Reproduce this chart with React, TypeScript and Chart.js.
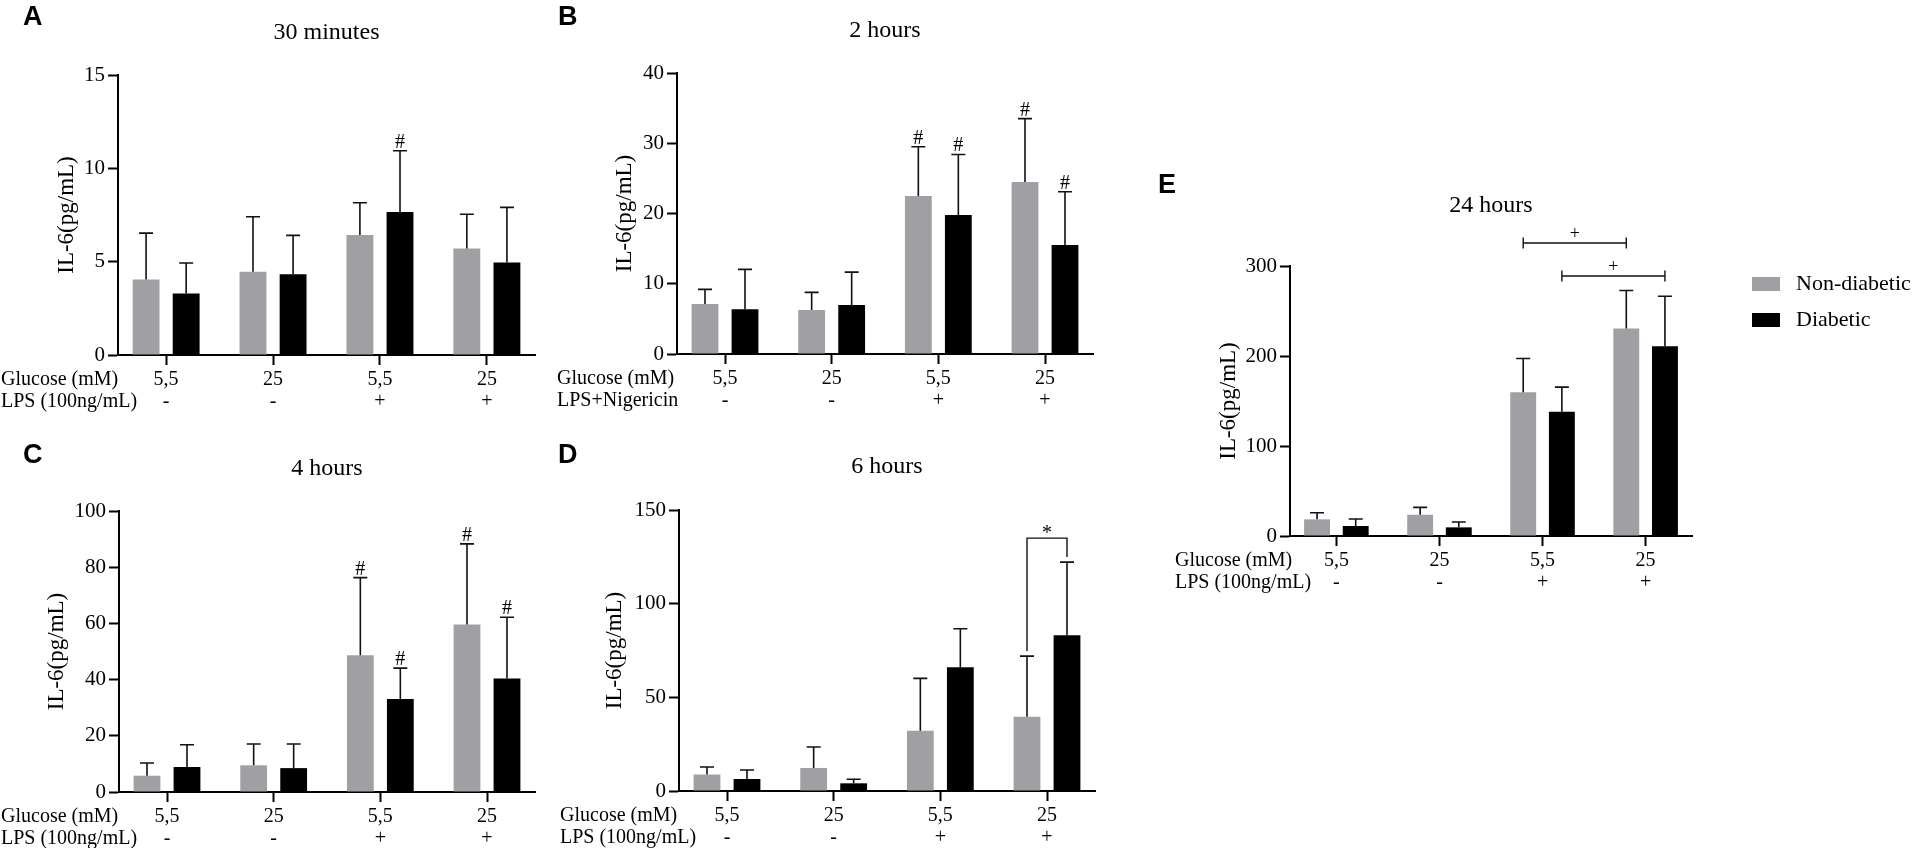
import React, { useEffect, useRef } from 'react';
import { Chart, registerables } from 'chart.js';

Chart.register(...registerables);

const SERIF = '"Liberation Serif", "Times New Roman", serif';
const SANS = '"Liberation Sans", Arial, sans-serif';
const GREY = '#a0a0a4';
const BLACK = '#000000';

const glucoseLabels = ['5,5', '25', '5,5', '25'];
const lpsLabels = ['-', '-', '+', '+'];
const seriesNames = ['Non-diabetic', 'Diabetic'];

// A - 30 minutes (mean and SD, pg/mL)
const min30NonDiabetic = [4.05, 4.46, 6.43, 5.71];
const min30NonDiabeticSd = [2.48, 2.95, 1.73, 1.83];
const min30Diabetic = [3.3, 4.32, 7.66, 4.95];
const min30DiabeticSd = [1.63, 2.09, 3.28, 2.96];

// B - 2 hours
const h2NonDiabetic = [7.1, 6.26, 22.5, 24.5];
const h2NonDiabeticSd = [2.1, 2.51, 7.0, 9.0];
const h2Diabetic = [6.36, 6.97, 19.8, 15.5];
const h2DiabeticSd = [5.69, 4.69, 8.6, 7.6];

// C - 4 hours
const h4NonDiabetic = [5.8, 9.5, 48.7, 59.6];
const h4NonDiabeticSd = [4.5, 7.6, 27.6, 28.7];
const h4Diabetic = [8.9, 8.5, 33.1, 40.4];
const h4DiabeticSd = [7.9, 8.6, 11.0, 21.8];

// D - 6 hours
const h6NonDiabetic = [8.8, 12.3, 32.1, 39.6];
const h6NonDiabeticSd = [4.0, 11.2, 28.0, 32.4];
const h6Diabetic = [6.4, 4.1, 66.1, 83.2];
const h6DiabeticSd = [4.8, 2.2, 20.5, 39.0];

// E - 24 hours
const h24NonDiabetic = [18.5, 23.6, 159.8, 230.5];
const h24NonDiabeticSd = [7.4, 8.2, 37.4, 42.2];
const h24Diabetic = [11.1, 9.6, 138, 210.9];
const h24DiabeticSd = [7.8, 5.9, 27.4, 55.5];

// [series, group]
type Mark = [number, number];

interface Bracket {
  from: Mark;
  to: Mark;
  at: number; // height of the bar in data units
  text: string;
  legs: boolean;
}

interface PanelProps {
  letter: string;
  title: string;
  stimulus: string;
  nonDiabetic: number[];
  nonDiabeticSd: number[];
  diabetic: number[];
  diabeticSd: number[];
  yMax: number;
  yStep: number;
  hashes?: Mark[];
  brackets?: Bracket[];
  frame: { x: number; y: number; w: number; h: number };
  plot: { l: number; t: number; r: number; b: number };
  letterAt: [number, number];
  titleY: number;
  yTitleX: number;
  rowX: number;
  legendAt?: [number, number];
}

const Panel: React.FC<PanelProps> = (p) => {
  const canvasRef = useRef<HTMLCanvasElement | null>(null);

  useEffect(() => {
    if (!canvasRef.current) return;
    const ctx = canvasRef.current.getContext('2d');
    if (!ctx) return;

    const { frame, plot } = p;
    // plot box in canvas pixels
    const L = plot.l - frame.x;
    const T = plot.t - frame.y;
    const R = plot.r - frame.x;
    const B = plot.b - frame.y;
    const means = [p.nonDiabetic, p.diabetic];
    const sds = [p.nonDiabeticSd, p.diabeticSd];

    const decor = {
      id: 'decor',
      afterDatasetsDraw(chart: any) {
        const c = chart.ctx;
        const ys = chart.scales.y;
        const barX = (s: number, g: number) => chart.getDatasetMeta(s).data[g].x;
        const errTop = (s: number, g: number) => ys.getPixelForValue(means[s][g] + sds[s][g]);

        c.save();
        c.strokeStyle = '#111';
        c.lineWidth = 1.6;

        // error bars (upper only)
        for (let s = 0; s < 2; s++) {
          for (let g = 0; g < means[s].length; g++) {
            const x = barX(s, g);
            const top = errTop(s, g);
            const base = ys.getPixelForValue(means[s][g]);
            c.beginPath();
            c.moveTo(x, base);
            c.lineTo(x, top);
            c.moveTo(x - 7, top);
            c.lineTo(x + 7, top);
            c.stroke();
          }
        }

        c.fillStyle = '#000';
        c.textAlign = 'center';
        c.textBaseline = 'alphabetic';
        c.font = `20px ${SERIF}`;
        (p.hashes || []).forEach(([s, g]) => c.fillText('#', barX(s, g), errTop(s, g) - 3));

        c.lineWidth = 1.4;
        (p.brackets || []).forEach((b) => {
          const x1 = barX(b.from[0], b.from[1]);
          const x2 = barX(b.to[0], b.to[1]);
          const yb = ys.getPixelForValue(b.at);
          c.beginPath();
          if (b.legs) {
            c.moveTo(x1, errTop(b.from[0], b.from[1]) - 5);
            c.lineTo(x1, yb);
            c.lineTo(x2, yb);
            c.lineTo(x2, errTop(b.to[0], b.to[1]) - 5);
            c.stroke();
            c.font = `20px ${SERIF}`;
            c.fillText(b.text, (x1 + x2) / 2, yb + 1);
          } else {
            c.moveTo(x1, yb);
            c.lineTo(x2, yb);
            c.moveTo(x1, yb - 5.5);
            c.lineTo(x1, yb + 5.5);
            c.moveTo(x2, yb - 5.5);
            c.lineTo(x2, yb + 5.5);
            c.stroke();
            c.font = `18px ${SERIF}`;
            c.fillText(b.text, (x1 + x2) / 2, yb - 4);
          }
        });

        // panel title
        c.font = `24px ${SERIF}`;
        c.fillText(p.title, (L + R) / 2, p.titleY - frame.y);

        // y axis title
        c.save();
        c.translate(p.yTitleX - frame.x, (T + B) / 2);
        c.rotate(-Math.PI / 2);
        c.font = `23px ${SERIF}`;
        c.textBaseline = 'middle';
        c.fillText('IL-6(pg/mL)', 0, 0);
        c.restore();

        // row headers, level with the two lines of tick labels
        const row1 = B + 10 + 4 + 11;
        c.textAlign = 'left';
        c.textBaseline = 'middle';
        c.font = `20px ${SERIF}`;
        c.fillText('Glucose (mM)', p.rowX - frame.x, row1);
        c.fillText(p.stimulus, p.rowX - frame.x, row1 + 22);

        // panel letter
        c.textBaseline = 'alphabetic';
        c.font = `bold 27px ${SANS}`;
        c.fillText(p.letter, p.letterAt[0] - frame.x, p.letterAt[1] - frame.y);

        // legend
        if (p.legendAt) {
          const lx = p.legendAt[0] - frame.x;
          const ly = p.legendAt[1] - frame.y;
          [GREY, BLACK].forEach((col, i) => {
            c.fillStyle = col;
            c.fillRect(lx, ly + i * 36, 28, 14);
            c.fillStyle = '#000';
            c.font = `22px ${SERIF}`;
            c.textBaseline = 'middle';
            c.fillText(seriesNames[i], lx + 44, ly + 7 + i * 36);
          });
        }
        c.restore();
      },
    };

    const chart = new Chart(ctx, {
      type: 'bar',
      data: {
        datasets: [
          {
            label: seriesNames[0],
            data: p.nonDiabetic.map((v, i) => ({ x: i, y: v })),
            backgroundColor: GREY,
          },
          {
            label: seriesNames[1],
            data: p.diabetic.map((v, i) => ({ x: i, y: v })),
            backgroundColor: BLACK,
          },
        ],
      },
      options: {
        animation: false,
        responsive: false,
        events: [],
        layout: { padding: { top: T, right: frame.w - R, left: 0, bottom: 0 } },
        datasets: { bar: { categoryPercentage: 0.75, barPercentage: 0.67, borderWidth: 0 } },
        plugins: { legend: { display: false }, tooltip: { enabled: false } },
        scales: {
          x: {
            type: 'linear',
            min: -0.45,
            max: 3.45,
            bounds: 'data',
            offset: false,
            afterBuildTicks: (axis: any) => {
              axis.ticks = glucoseLabels.map((_, i) => ({ value: i }));
            },
            afterFit: (axis: any) => {
              axis.height = frame.h - B;
            },
            ticks: {
              callback: (v: any) => [glucoseLabels[v], lpsLabels[v]],
              font: { family: SERIF, size: 20, lineHeight: 1.1 },
              color: '#000',
              padding: 4,
              maxRotation: 0,
              autoSkip: false,
            },
            grid: {
              display: true,
              drawOnChartArea: false,
              drawTicks: true,
              tickLength: 10,
              tickWidth: 2,
              color: '#000',
              offset: false,
            },
            border: { display: true, color: '#000', width: 2 },
          },
          y: {
            min: 0,
            max: p.yMax,
            afterFit: (axis: any) => {
              axis.width = L;
            },
            ticks: { stepSize: p.yStep, font: { family: SERIF, size: 21 }, color: '#000', padding: 3 },
            grid: { drawOnChartArea: false, tickLength: 10, tickWidth: 2, color: '#000' },
            border: { display: true, color: '#000', width: 2 },
          },
        },
      } as any,
      plugins: [decor],
    });

    return () => {
      chart.destroy();
    };
  }, [p]);

  return (
    <canvas
      ref={canvasRef}
      width={p.frame.w}
      height={p.frame.h}
      style={{ position: 'absolute', left: p.frame.x, top: p.frame.y, width: p.frame.w, height: p.frame.h }}
    />
  );
};

const panels: PanelProps[] = [
  {
    letter: 'A',
    title: '30 minutes',
    stimulus: 'LPS (100ng/mL)',
    nonDiabetic: min30NonDiabetic,
    nonDiabeticSd: min30NonDiabeticSd,
    diabetic: min30Diabetic,
    diabeticSd: min30DiabeticSd,
    yMax: 15,
    yStep: 5,
    hashes: [[1, 2]],
    frame: { x: 0, y: 0, w: 545, h: 420 },
    plot: { l: 118, t: 75, r: 535, b: 355 },
    letterAt: [23, 25],
    titleY: 39,
    yTitleX: 67,
    rowX: 1,
  },
  {
    letter: 'B',
    title: '2 hours',
    stimulus: 'LPS+Nigericin',
    nonDiabetic: h2NonDiabetic,
    nonDiabeticSd: h2NonDiabeticSd,
    diabetic: h2Diabetic,
    diabeticSd: h2DiabeticSd,
    yMax: 40,
    yStep: 10,
    hashes: [[0, 2], [1, 2], [0, 3], [1, 3]],
    frame: { x: 545, y: 0, w: 560, h: 420 },
    plot: { l: 677, t: 73, r: 1093, b: 354 },
    letterAt: [558, 25],
    titleY: 37,
    yTitleX: 625,
    rowX: 557,
  },
  {
    letter: 'C',
    title: '4 hours',
    stimulus: 'LPS (100ng/mL)',
    nonDiabetic: h4NonDiabetic,
    nonDiabeticSd: h4NonDiabeticSd,
    diabetic: h4Diabetic,
    diabeticSd: h4DiabeticSd,
    yMax: 100,
    yStep: 20,
    hashes: [[0, 2], [1, 2], [0, 3], [1, 3]],
    frame: { x: 0, y: 420, w: 545, h: 428 },
    plot: { l: 119, t: 511, r: 535, b: 792 },
    letterAt: [23, 463],
    titleY: 475,
    yTitleX: 57,
    rowX: 1,
  },
  {
    letter: 'D',
    title: '6 hours',
    stimulus: 'LPS (100ng/mL)',
    nonDiabetic: h6NonDiabetic,
    nonDiabeticSd: h6NonDiabeticSd,
    diabetic: h6Diabetic,
    diabeticSd: h6DiabeticSd,
    yMax: 150,
    yStep: 50,
    brackets: [{ from: [0, 3], to: [1, 3], at: 135, text: '*', legs: true }],
    frame: { x: 545, y: 420, w: 560, h: 428 },
    plot: { l: 679, t: 510, r: 1095, b: 791 },
    letterAt: [558, 463],
    titleY: 473,
    yTitleX: 615,
    rowX: 560,
  },
  {
    letter: 'E',
    title: '24 hours',
    stimulus: 'LPS (100ng/mL)',
    nonDiabetic: h24NonDiabetic,
    nonDiabeticSd: h24NonDiabeticSd,
    diabetic: h24Diabetic,
    diabeticSd: h24DiabeticSd,
    yMax: 300,
    yStep: 100,
    brackets: [
      { from: [0, 2], to: [0, 3], at: 325.6, text: '+', legs: false },
      { from: [1, 2], to: [1, 3], at: 288.9, text: '+', legs: false },
    ],
    frame: { x: 1140, y: 130, w: 773, h: 480 },
    plot: { l: 1290, t: 266, r: 1692, b: 536 },
    letterAt: [1158, 193],
    titleY: 212,
    yTitleX: 1229,
    rowX: 1175,
    legendAt: [1752, 277],
  },
];

const App: React.FC = () => (
  <div style={{ position: 'absolute', left: 0, top: 0, width: 1913, height: 848, background: '#fff', overflow: 'hidden' }}>
    {panels.map((p) => (
      <Panel key={p.letter} {...p} />
    ))}
  </div>
);

export default App;
